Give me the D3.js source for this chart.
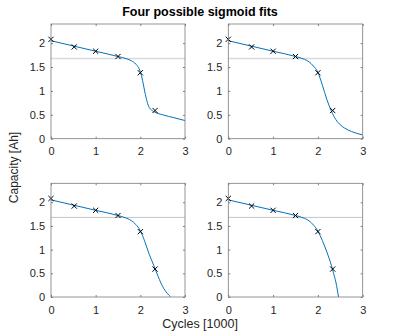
<!DOCTYPE html>
<html>
<head>
<meta charset="utf-8">
<script src="https://cdn.jsdelivr.net/npm/d3@7"></script>
<style>
  body { margin: 0; background: #fff; }
  text { font-family: "Liberation Sans", Arial, Helvetica, sans-serif; }
</style>
</head>
<body>
<div id="chart"></div>
<script>
// measured data (cycles in thousands, capacity in Ah)
const dataX = [0, 0.52, 1.0, 1.5, 2.0, 2.33];
const dataY = [2.08, 1.92, 1.83, 1.72, 1.38, 0.59];
const threshold = 1.68;

// fitted curves
const fit1X = [0, 0.5, 1.0, 1.5, 1.7, 1.8, 1.9, 2.0, 2.05, 2.1, 2.15, 2.2, 2.3, 2.5, 2.75, 3.0];
const fit1Y = [2.05, 1.94, 1.83, 1.72, 1.67, 1.63, 1.56, 1.40, 1.22, 0.98, 0.78, 0.65, 0.57, 0.50, 0.44, 0.38];
const fit2X = [0, 0.5, 1.0, 1.5, 1.7, 1.8, 1.9, 2.0, 2.1, 2.2, 2.3, 2.4, 2.5, 2.6, 2.75, 3.0];
const fit2Y = [2.05, 1.94, 1.83, 1.72, 1.66, 1.61, 1.52, 1.39, 1.12, 0.82, 0.58, 0.40, 0.29, 0.22, 0.15, 0.08];
const fit3X = [0, 0.5, 1.0, 1.5, 1.7, 1.8, 1.9, 2.0, 2.1, 2.2, 2.3, 2.4, 2.5, 2.6, 2.68];
const fit3Y = [2.05, 1.94, 1.83, 1.72, 1.66, 1.61, 1.53, 1.40, 1.17, 0.90, 0.67, 0.43, 0.22, 0.08, 0.0];
const fit4X = [0, 0.5, 1.0, 1.5, 1.7, 1.8, 1.9, 2.0, 2.1, 2.2, 2.3, 2.35, 2.4, 2.46];
const fit4Y = [2.05, 1.94, 1.83, 1.72, 1.66, 1.61, 1.52, 1.39, 1.19, 0.95, 0.67, 0.50, 0.32, 0.0];

const xTicks = [0, 1, 2, 3];
const yTicks = [0, 0.5, 1, 1.5, 2];

const width = 402, height = 334;
const svg = d3.select('#chart').append('svg')
  .attr('width', width).attr('height', height);

// panel boxes
const panels = [
  { x0: 51, x1: 185, y0: 24, y1: 138.7, fx: fit1X, fy: fit1Y, thr: '#d9d9d9', thrW: 1.5 },
  { x0: 228.3, x1: 362.7, y0: 24, y1: 138.7, fx: fit2X, fy: fit2Y, thr: '#d9d9d9', thrW: 1.5 },
  { x0: 51, x1: 185, y0: 183.3, y1: 297, fx: fit3X, fy: fit3Y, thr: '#b8b8b8', thrW: 0.8 },
  { x0: 228.3, x1: 362.7, y0: 183.3, y1: 297, fx: fit4X, fy: fit4Y, thr: '#b8b8b8', thrW: 0.8 }
];

const axisColor = '#262626';

panels.forEach((p, i) => {
  const x = d3.scaleLinear().domain([0, 3]).range([p.x0, p.x1]);
  const y = d3.scaleLinear().domain([0, 2.4]).range([p.y1, p.y0]);
  const g = svg.append('g');

  g.append('clipPath').attr('id', 'clip' + i)
    .append('rect')
    .attr('x', p.x0).attr('y', p.y0)
    .attr('width', p.x1 - p.x0).attr('height', p.y1 - p.y0);

  // threshold line
  g.append('line')
    .attr('x1', x(0)).attr('x2', x(3))
    .attr('y1', y(threshold)).attr('y2', y(threshold))
    .attr('stroke', p.thr).attr('stroke-width', p.thrW);

  // fitted curve
  const pts = p.fx.map((v, k) => [v, p.fy[k]]);
  g.append('path')
    .datum(pts)
    .attr('clip-path', 'url(#clip' + i + ')')
    .attr('fill', 'none')
    .attr('stroke', '#0072BD')
    .attr('stroke-width', 1)
    .attr('d', d3.line().x(d => x(d[0])).y(d => y(d[1])).curve(d3.curveMonotoneX));

  // markers
  const s = 2.6;
  dataX.forEach((v, k) => {
    const cx = x(v), cy = y(dataY[k]);
    g.append('path')
      .attr('d', `M${cx - s},${cy - s}L${cx + s},${cy + s}M${cx - s},${cy + s}L${cx + s},${cy - s}`)
      .attr('stroke', '#000').attr('stroke-width', 1).attr('fill', 'none');
  });

  // axes (MATLAB style, ticks inward, box on)
  const tl = 2;
  g.append('g').attr('transform', `translate(0,${p.y1})`)
    .call(d3.axisBottom(x).tickValues(xTicks).tickSizeInner(-tl).tickSizeOuter(0).tickPadding(9).tickFormat(d3.format('')))
    .call(a => a.select('.domain').remove());
  g.append('g').attr('transform', `translate(0,${p.y0})`)
    .call(d3.axisTop(x).tickValues(xTicks).tickSizeInner(-tl).tickSizeOuter(0).tickFormat(''))
    .call(a => a.select('.domain').remove());
  g.append('g').attr('transform', `translate(${p.x0},0)`)
    .call(d3.axisLeft(y).tickValues(yTicks).tickSizeInner(-tl).tickSizeOuter(0).tickPadding(6).tickFormat(d3.format('')))
    .call(a => a.select('.domain').remove());
  g.append('g').attr('transform', `translate(${p.x1},0)`)
    .call(d3.axisRight(y).tickValues(yTicks).tickSizeInner(-tl).tickSizeOuter(0).tickFormat(''))
    .call(a => a.select('.domain').remove());

  g.selectAll('.tick line').attr('stroke', axisColor).attr('stroke-width', 0.6);
  g.selectAll('.tick text').attr('fill', axisColor).style('font-size', '11px')
    .style('font-family', '"Liberation Sans", Arial, sans-serif');

  g.append('rect')
    .attr('x', p.x0).attr('y', p.y0)
    .attr('width', p.x1 - p.x0).attr('height', p.y1 - p.y0)
    .attr('fill', 'none').attr('stroke', '#7a7a7a').attr('stroke-width', 0.8);
});

// title and labels
svg.append('text')
  .attr('x', 200).attr('y', 16)
  .attr('text-anchor', 'middle')
  .style('font-size', '12.5px').style('font-weight', 'bold')
  .attr('fill', '#000')
  .text('Four possible sigmoid fits');

svg.append('text')
  .attr('transform', 'translate(18,167.5) rotate(-90)')
  .attr('text-anchor', 'middle')
  .style('font-size', '12px')
  .attr('fill', axisColor)
  .text('Capacity [Ah]');

svg.append('text')
  .attr('x', 200).attr('y', 328)
  .attr('text-anchor', 'middle')
  .style('font-size', '12.5px')
  .attr('fill', axisColor)
  .text('Cycles [1000]');
</script>
</body>
</html>
